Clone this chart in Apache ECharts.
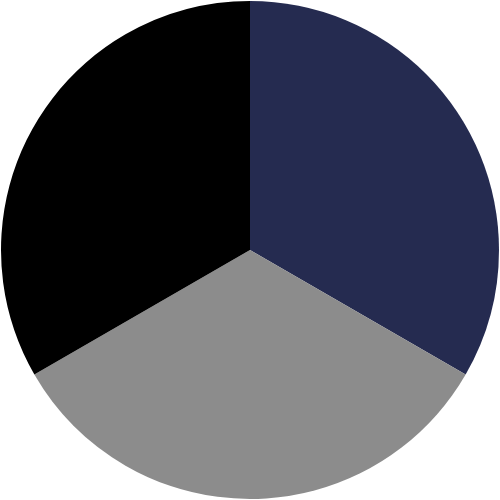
<!DOCTYPE html>
<html>
<head>
<meta charset="utf-8">
<script src="https://cdn.jsdelivr.net/npm/echarts@6/dist/echarts.min.js"></script>
<style>html,body{margin:0;padding:0;background:#fff;}#c{width:500px;height:500px;}</style>
</head>
<body>
<div id="c"></div>
<script>
const categories = ['A', 'B', 'C'];
const values = [1, 1, 1];
const colors = ['#252b50', '#8c8c8c', '#000000'];

const chart = echarts.init(document.getElementById('c'), null, {renderer: 'canvas'});
chart.setOption({
  animation: false,
  series: [{
    type: 'pie',
    center: ['50%', '50%'],
    radius: [0, 249],
    startAngle: 90,
    clockwise: true,
    label: {show: false},
    labelLine: {show: false},
    itemStyle: {borderWidth: 0},
    emphasis: {disabled: true},
    data: categories.map((c, i) => ({name: c, value: values[i], itemStyle: {color: colors[i]}}))
  }]
});
</script>
</body>
</html>
